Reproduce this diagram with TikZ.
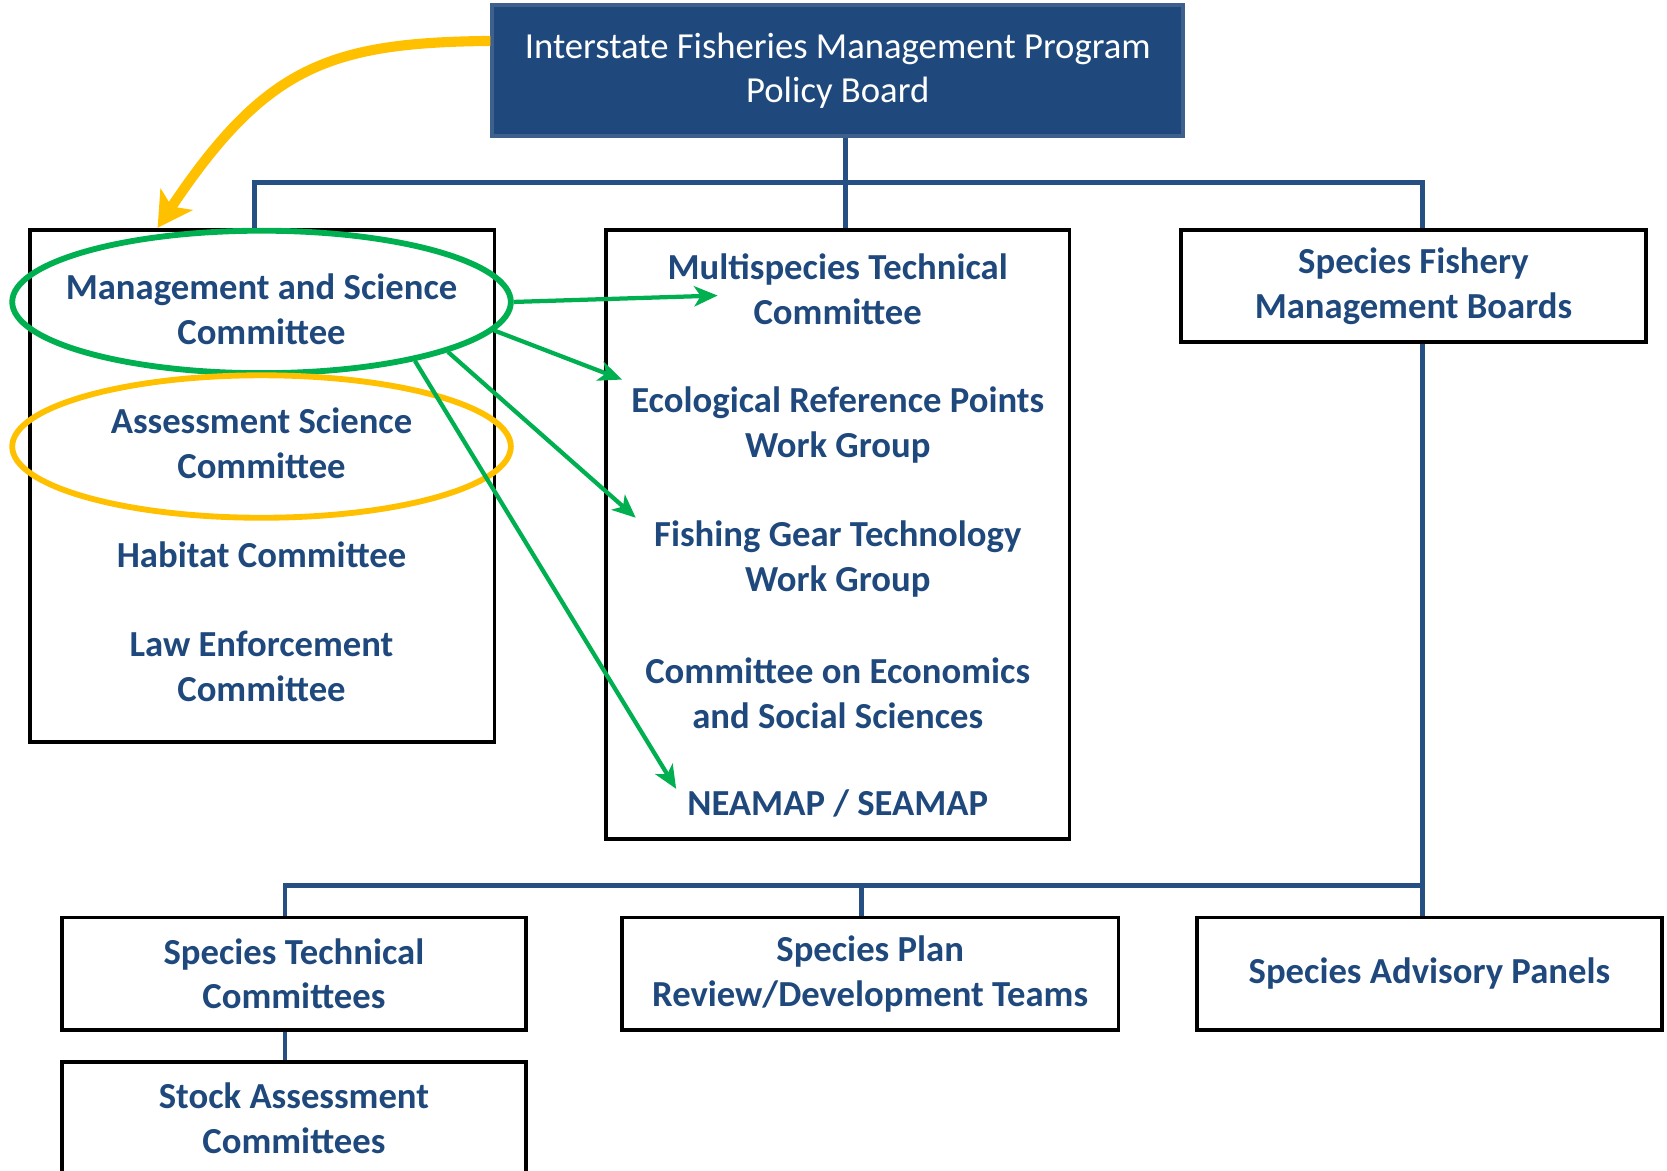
\documentclass[tikz,border=0pt]{standalone}
\usepackage{fontspec}
\setmainfont{Carlito}
\usetikzlibrary{arrows.meta, shapes.geometric, positioning}
\definecolor{asmfcblue}{RGB}{31,73,125}
\definecolor{linkblue}{RGB}{38,79,132}
\definecolor{rimblue}{RGB}{62,96,140}
\definecolor{markgreen}{RGB}{0,176,80}
\definecolor{markgold}{RGB}{255,192,0}

\begin{document}
\begin{tikzpicture}[x=1pt, y=-1pt,
    box/.style={rectangle, draw=black, line width=3.5pt, minimum width=437pt,
                minimum height=106pt, inner sep=0pt},
    entry/.style={font=\fontsize{34.5}{42}\selectfont\bfseries, text=asmfcblue,
                  align=center, inner sep=0pt},
    ring/.style={ellipse, line width=5.5pt, minimum width=469pt,
                 minimum height=134pt, inner sep=0pt},
    link/.style={draw=linkblue, line width=4.5pt},
    pointer/.style={-{Stealth[length=22pt, width=19pt, inset=6pt]},
                    draw=markgreen, line width=4pt}]

    \useasboundingbox (0,0) rectangle (1568,1101);

    % Boxes
    \node[rectangle, fill=asmfcblue, draw=rimblue, line width=3.5pt, minimum width=650pt,
          minimum height=123pt, text=white, font=\fontsize{34.5}{42}\selectfont,
          align=center] (policy) at (788,66.5)
          {Interstate Fisheries Management Program\\Policy Board};
    \node[box, minimum height=482pt] (lbox) at (246.5,457) {};
    \node[box, minimum width=436pt, minimum height=573pt] (mbox) at (788,502.5) {};
    \node[box, entry] (sfmb) at (1329.5,269) {Species Fishery\\Management Boards};
    \node[box, entry] (stc) at (276.5,916) {Species Technical\\Committees};
    \node[box, entry, minimum width=467pt] (sprdt) at (818.5,916) {Species Plan\\Review/Development Teams};
    \node[box, entry] (sap) at (1344.5,916) {Species Advisory Panels};
    \node[box, entry] (sac) at (276.5,1052) {Stock Assessment\\Committees};

    % Committees in the left box
    \node[entry] (msctxt) at (246,291) {Management and Science\\Committee};
    \node[entry] (asctxt) at (246,417) {Assessment Science\\Committee};
    \node[entry] (hab) at (246,522) {Habitat Committee};
    \node[entry] (lec) at (246,627) {Law Enforcement\\Committee};

    % Groups in the middle box
    \node[entry] (mst) at (788,272) {Multispecies Technical\\Committee};
    \node[entry] (erp) at (788,400) {Ecological Reference Points\\Work Group};
    \node[entry] (fgt) at (788,526) {Fishing Gear Technology\\Work Group};
    \node[entry] (cess) at (788,652) {Committee on Economics\\and Social Sciences};
    \node[entry] (neamap) at (788,756) {NEAMAP / SEAMAP};

    % Highlight rings
    \node[ring, draw=markgreen] (msc) at (246,284) {};
    \node[ring, draw=markgold] (asc) at (246,420) {};

    % Org lines
    \coordinate (midtie) at ([xshift=7pt]policy.south);
    \coordinate (lefttie) at ([xshift=-7pt]lbox.north);
    \coordinate (righttie) at ([xshift=8.5pt]sfmb.north);
    \coordinate (spine) at ([xshift=8.5pt]sfmb.south);
    \coordinate (stctie) at ([xshift=-8.5pt]stc.north);
    \coordinate (sprdttie) at ([xshift=-8.5pt]sprdt.north);
    \draw[link] (midtie) -- (midtie |- mbox.north);
    \draw[link] (lefttie) |- (righttie |- 0,172) -- (righttie);
    \draw[link] (spine) -- (spine |- sap.north);
    \draw[link] (stctie) |- (spine |- 0,833);
    \draw[link] (sprdttie) -- (sprdttie |- 0,833);
    \draw[link] (stctie |- stc.south) -- (stctie |- sac.north);

    % Arrow tips
    \coordinate (tipmst) at (675,278);
    \coordinate (tiperp) at (585,357);
    \coordinate (tipfgt) at (598,487);
    \coordinate (tipneamap) at (636,742);

    % Green arrows
    \draw[pointer] (msc.east) -- (tipmst);
    \draw[pointer] (msc.-7) -- (tiperp);
    \draw[pointer] (msc.-15) -- (tipfgt);
    \draw[pointer] (msc.-21) -- (tipneamap);

    % Gold arrow
    \draw[draw=markgold, line width=9.5pt, -{Stealth[length=32pt, width=36pt, inset=8pt]}]
        ([yshift=28pt]policy.west) .. controls (310,40) and (250,62) .. ([xshift=122pt]lbox.north west);

\end{tikzpicture}
\end{document}
